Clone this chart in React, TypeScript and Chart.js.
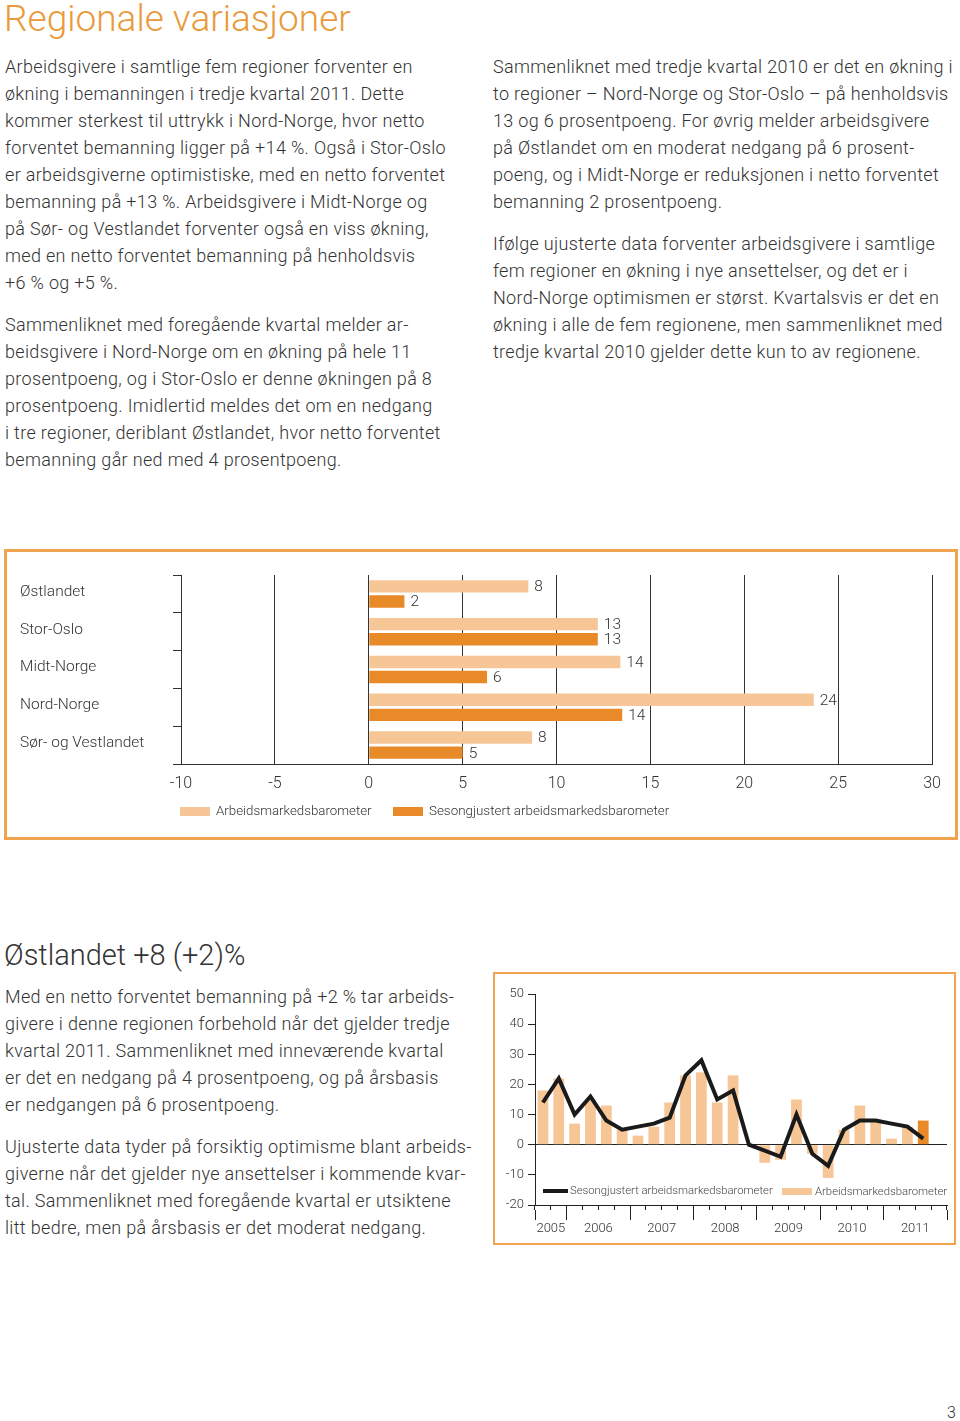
import React, { useEffect, useRef } from 'react';
import { Chart, registerables } from 'chart.js';
Chart.register(...registerables);

// ---------- Data: regional bar chart ----------
const regions = ['Østlandet', 'Stor-Oslo', 'Midt-Norge', 'Nord-Norge', 'Sør- og Vestlandet'];
const barometer = [8.5, 12.2, 13.4, 23.7, 8.7];
const barometerLabels = ['8', '13', '14', '24', '8'];
const seasonal = [1.9, 12.2, 6.3, 13.5, 5.0];
const seasonalLabels = ['2', '13', '6', '14', '5'];
const regionAxisMin = -10;
const regionAxisMax = 30;
const regionAxisStep = 5;

// ---------- Data: Østlandet time series ----------
const quarters = [
  '2005K3', '2005K4',
  '2006K1', '2006K2', '2006K3', '2006K4',
  '2007K1', '2007K2', '2007K3', '2007K4',
  '2008K1', '2008K2', '2008K3', '2008K4',
  '2009K1', '2009K2', '2009K3', '2009K4',
  '2010K1', '2010K2', '2010K3', '2010K4',
  '2011K1', '2011K2', '2011K3', '2011K4',
];
const ostBars = [18, 22, 7, 15, 13, 5, 3, 6, 14, 23, 24, 14, 23, 0, -6, -5, 15, -3, -11, 5, 13, 8, 2, 6, 8, null];
const ostLine = [14, 22, 10, 16, 8, 5, 6, 7, 9, 23, 28, 15, 18, 0, -2, -4, 10, -3, -7, 5, 8, 8, 7, 6, 2, null];
const years = ['2005', '2006', '2007', '2008', '2009', '2010', '2011'];
const quartersPerYear = [2, 4, 4, 4, 4, 4, 4];
const ostAxisMin = -20;
const ostAxisMax = 50;
const ostAxisStep = 10;

const LIGHT = '#F7C696';
const DARK = '#E98A28';
const BORDER = '#F0A450';
const TEXT = '#333333';
const FONT = 'Roboto, "Liberation Sans", sans-serif';

const valueLabelPlugin = {
  id: 'valueLabels',
  afterDatasetsDraw(chart: any) {
    const ctx = chart.ctx;
    const labelSets = [barometerLabels, seasonalLabels];
    ctx.save();
    ctx.font = '300 15.5px ' + FONT;
    ctx.fillStyle = TEXT;
    ctx.textBaseline = 'middle';
    ctx.textAlign = 'left';
    chart.data.datasets.forEach((ds: any, di: number) => {
      const meta = chart.getDatasetMeta(di);
      meta.data.forEach((el: any, i: number) => {
        ctx.fillText(labelSets[di][i], el.x + 6, el.y + 1);
      });
    });
    ctx.restore();
  },
};

function RegionChart() {
  const ref = useRef<HTMLCanvasElement>(null);
  useEffect(() => {
    const chart = new Chart(ref.current!, {
      type: 'bar',
      data: {
        labels: regions,
        datasets: [
          { label: 'Arbeidsmarkedsbarometer', data: barometer, backgroundColor: LIGHT, barPercentage: 0.82, categoryPercentage: 0.8 },
          { label: 'Sesongjustert arbeidsmarkedsbarometer', data: seasonal, backgroundColor: DARK, barPercentage: 0.82, categoryPercentage: 0.8 },
        ],
      },
      options: {
        indexAxis: 'y',
        animation: false,
        responsive: false,
        maintainAspectRatio: false,
        layout: { padding: { left: 13, top: 23, right: 23, bottom: 0 } },
        plugins: { legend: { display: false }, tooltip: { enabled: false } },
        scales: {
          x: {
            min: regionAxisMin,
            max: regionAxisMax,
            ticks: { stepSize: regionAxisStep, color: TEXT, padding: 10, font: { family: FONT, size: 16, weight: '300' } },
            grid: { color: '#333', lineWidth: 1, drawTicks: false },
            border: { color: '#333', width: 1 },
            afterFit: (s: any) => { s.height = 73; },
          },
          y: {
            ticks: { crossAlign: 'far', color: TEXT, labelOffset: -2, font: { family: FONT, size: 15.5, weight: '300' } },
            grid: { offset: true, drawOnChartArea: false, tickLength: 8, color: '#333', lineWidth: 1 },
            border: { color: '#333', width: 1 },
            afterFit: (s: any) => { s.width = 161; },
          },
        },
      },
      plugins: [valueLabelPlugin],
    } as any);
    return () => chart.destroy();
  }, []);
  return <canvas ref={ref} width={948} height={285} style={{ display: 'block', width: 948, height: 285 }} />;
}

function OstChart() {
  const ref = useRef<HTMLCanvasElement>(null);
  useEffect(() => {
    // year boundary positions and year centres, in quarter units
    const bounds: number[] = [0];
    const centres: number[] = [];
    quartersPerYear.forEach((q) => {
      const start = bounds[bounds.length - 1];
      centres.push(start + q / 2);
      bounds.push(start + q);
    });
    const total = bounds[bounds.length - 1];
    const chart = new Chart(ref.current!, {
      type: 'bar',
      data: {
        labels: quarters,
        datasets: [
          {
            type: 'line',
            label: 'Sesongjustert arbeidsmarkedsbarometer',
            data: ostLine,
            borderColor: '#1a1a1a',
            borderWidth: 4,
            pointRadius: 0,
            tension: 0,
            borderJoinStyle: 'miter',
            order: 0,
          },
          {
            type: 'bar',
            label: 'Arbeidsmarkedsbarometer',
            data: ostBars,
            backgroundColor: ostBars.map((v, i) => (i === ostBars.length - 2 ? DARK : LIGHT)),
            barPercentage: 0.68,
            categoryPercentage: 1,
            order: 1,
          },
        ],
      },
      options: {
        animation: false,
        responsive: false,
        maintainAspectRatio: false,
        layout: { padding: { left: 0, top: 20, right: 7, bottom: 0 } },
        plugins: { legend: { display: false }, tooltip: { enabled: false } },
        scales: {
          x: {
            position: 'bottom',
            ticks: { display: false },
            grid: { offset: true, drawOnChartArea: false, tickLength: 5, color: '#222', lineWidth: 1 },
            border: { color: '#222', width: 1 },
            afterFit: (s: any) => { s.height = 5; },
          },
          x2: {
            type: 'linear',
            position: 'bottom',
            offset: false,
            min: 0,
            max: total,
            afterBuildTicks: (s: any) => {
              const vals = [...bounds, ...centres].sort((a, b) => a - b);
              s.ticks = vals.map((v) => ({ value: v }));
            },
            ticks: {
              autoSkip: false,
              maxRotation: 0,
              padding: 1,
              color: TEXT,
              font: { family: FONT, size: 13, weight: '300' },
              callback: (v: any) => {
                const idx = centres.indexOf(Number(v));
                return idx >= 0 ? years[idx] : '';
              },
            },
            grid: {
              offset: false,
              drawOnChartArea: false,
              tickLength: 10,
              color: (c: any) => (c.tick && bounds.includes(c.tick.value) ? '#222' : 'rgba(0,0,0,0)'),
              lineWidth: 1,
            },
            border: { display: false },
            afterFit: (s: any) => { s.height = 33; },
          },
          y: {
            min: ostAxisMin,
            max: ostAxisMax,
            ticks: { stepSize: ostAxisStep, color: TEXT, padding: 4, font: { family: FONT, size: 13, weight: '300' } },
            grid: {
              tickLength: 7,
              color: (c: any) => (c.tick && c.tick.value === 0 ? '#222' : 'rgba(0,0,0,0)'),
              tickColor: '#222',
              lineWidth: 1,
            },
            border: { color: '#222', width: 1 },
            afterFit: (s: any) => { s.width = 40; },
          },
        },
      },
    } as any);
    return () => chart.destroy();
  }, []);
  return <canvas ref={ref} width={459} height={269} style={{ display: 'block', width: 459, height: 269 }} />;
}

const bodyStyle: React.CSSProperties = {
  position: 'absolute',
  fontFamily: FONT,
  fontWeight: 300,
  fontSize: 18,
  letterSpacing: '0.33px',
  lineHeight: '27px',
  color: TEXT,
  whiteSpace: 'nowrap',
  margin: 0,
};

function Lines({ lines, left, top }: { lines: string[]; left: number; top: number }) {
  return (
    <div style={{ ...bodyStyle, left, top }}>
      {lines.map((l, i) => (
        <div key={i}>{l}</div>
      ))}
    </div>
  );
}

const leftP1 = [
  'Arbeidsgivere i samtlige fem regioner forventer en',
  'økning i bemanningen i tredje kvartal 2011. Dette',
  'kommer sterkest til uttrykk i Nord-Norge, hvor netto',
  'forventet bemanning ligger på +14 %. Også i Stor-Oslo',
  'er arbeidsgiverne optimistiske, med en netto forventet',
  'bemanning på +13 %. Arbeidsgivere i Midt-Norge og',
  'på Sør- og Vestlandet forventer også en viss økning,',
  'med en netto forventet bemanning på henholdsvis',
  '+6 % og +5 %.',
];
const leftP2 = [
  'Sammenliknet med foregående kvartal melder ar-',
  'beidsgivere i Nord-Norge om en økning på hele 11',
  'prosentpoeng, og i Stor-Oslo er denne økningen på 8',
  'prosentpoeng. Imidlertid meldes det om en nedgang',
  'i tre regioner, deriblant Østlandet, hvor netto forventet',
  'bemanning går ned med 4 prosentpoeng.',
];
const rightP1 = [
  'Sammenliknet med tredje kvartal 2010 er det en økning i',
  'to regioner – Nord-Norge og Stor-Oslo – på henholdsvis',
  '13 og 6 prosentpoeng. For øvrig melder arbeidsgivere',
  'på Østlandet om en moderat nedgang på 6 prosent-',
  'poeng, og i Midt-Norge er reduksjonen i netto forventet',
  'bemanning 2 prosentpoeng.',
];
const rightP2 = [
  'Ifølge ujusterte data forventer arbeidsgivere i samtlige',
  'fem regioner en økning i nye ansettelser, og det er i',
  'Nord-Norge optimismen er størst. Kvartalsvis er det en',
  'økning i alle de fem regionene, men sammenliknet med',
  'tredje kvartal 2010 gjelder dette kun to av regionene.',
];
const ostP1 = [
  'Med en netto forventet bemanning på +2 % tar arbeids-',
  'givere i denne regionen forbehold når det gjelder tredje',
  'kvartal 2011. Sammenliknet med inneværende kvartal',
  'er det en nedgang på 4 prosentpoeng, og på årsbasis',
  'er nedgangen på 6 prosentpoeng.',
];
const ostP2 = [
  'Ujusterte data tyder på forsiktig optimisme blant arbeids-',
  'giverne når det gjelder nye ansettelser i kommende kvar-',
  'tal. Sammenliknet med foregående kvartal er utsiktene',
  'litt bedre, men på årsbasis er det moderat nedgang.',
];

const legendText: React.CSSProperties = {
  position: 'absolute',
  fontFamily: FONT,
  fontWeight: 300,
  color: TEXT,
  whiteSpace: 'nowrap',
};

export default function App() {
  useEffect(() => {
    document.body.style.margin = '0';
  }, []);
  return (
    <div style={{ position: 'absolute', left: 0, top: 0, width: 960, height: 1421, background: '#fff', overflow: 'hidden' }}>
      <div style={{ position: 'absolute', left: 4, top: -2, fontFamily: FONT, fontWeight: 300, fontSize: 37, lineHeight: '42px', color: '#E99A3A', whiteSpace: 'nowrap' }}>
        Regionale variasjoner
      </div>
      <Lines lines={leftP1} left={5} top={53} />
      <Lines lines={leftP2} left={5} top={311} />
      <Lines lines={rightP1} left={493} top={53} />
      <Lines lines={rightP2} left={493} top={230} />

      {/* Regional bar chart box */}
      <div style={{ position: 'absolute', left: 4, top: 549, width: 948, height: 285, border: `3px solid ${BORDER}` }}>
        <RegionChart />
      </div>
      <div style={{ position: 'absolute', left: 180, top: 807, width: 30, height: 9, background: LIGHT }} />
      <div style={{ ...legendText, left: 216, top: 803, fontSize: 13.3, lineHeight: '16px' }}>Arbeidsmarkedsbarometer</div>
      <div style={{ position: 'absolute', left: 393, top: 807, width: 30, height: 9, background: DARK }} />
      <div style={{ ...legendText, left: 429, top: 803, fontSize: 13.4, lineHeight: '16px' }}>Sesongjustert arbeidsmarkedsbarometer</div>

      {/* Østlandet section */}
      <div style={{ position: 'absolute', left: 4, top: 938, fontFamily: FONT, fontWeight: 300, fontSize: 29, lineHeight: '34px', color: TEXT, whiteSpace: 'nowrap' }}>
        Østlandet +8 (+2)%
      </div>
      <Lines lines={ostP1} left={5} top={983} />
      <Lines lines={ostP2} left={5} top={1133} />

      <div style={{ position: 'absolute', left: 493, top: 972, width: 459, height: 269, border: `2px solid ${BORDER}` }}>
        <OstChart />
      </div>
      <div style={{ position: 'absolute', left: 543, top: 1189, width: 25, height: 4, background: '#1a1a1a' }} />
      <div style={{ ...legendText, left: 570, top: 1184, fontSize: 11.3, lineHeight: '14px', color: '#444' }}>Sesongjustert arbeidsmarkedsbarometer</div>
      <div style={{ position: 'absolute', left: 782, top: 1188, width: 30, height: 7, background: LIGHT }} />
      <div style={{ ...legendText, left: 815, top: 1185, fontSize: 11.3, lineHeight: '14px', color: '#444' }}>Arbeidsmarkedsbarometer</div>

      <div style={{ position: 'absolute', left: 947, top: 1403, fontFamily: FONT, fontWeight: 300, fontSize: 16, lineHeight: '20px', color: TEXT }}>3</div>
    </div>
  );
}
